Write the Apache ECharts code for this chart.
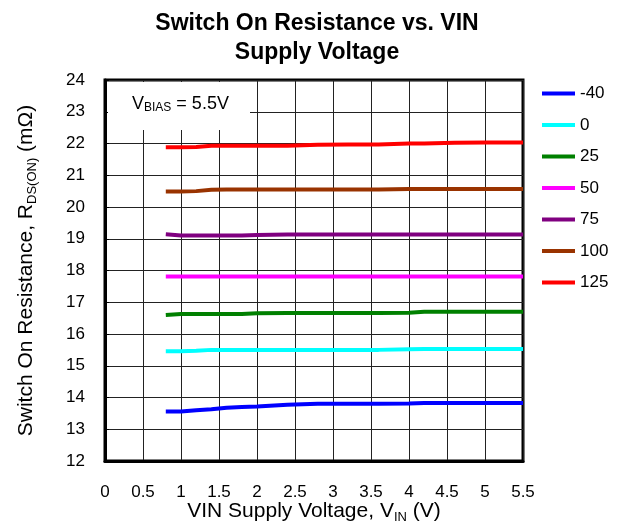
<!DOCTYPE html>
<html>
<head>
<meta charset="utf-8">
<script src="https://cdn.jsdelivr.net/npm/echarts@6/dist/echarts.min.js"></script>
<style>
  html, body { margin: 0; padding: 0; background: #fff; }
  #chart { width: 619px; height: 527px; }
</style>
</head>
<body>
<div id="chart"></div>
<script>
// VIN (V)
var vin = [0.8, 1.0, 1.2, 1.4, 1.6, 1.8, 2.0, 2.4, 2.8, 3.2, 3.6, 4.0, 4.2, 4.6, 5.0, 5.5];
// RDS(ON) (mOhm) per temperature
var tM40 = [13.56, 13.56, 13.6, 13.63, 13.68, 13.7, 13.72, 13.77, 13.8, 13.8, 13.8, 13.81, 13.83, 13.83, 13.83, 13.83];
var t0 = [15.46, 15.46, 15.47, 15.5, 15.5, 15.5, 15.5, 15.5, 15.5, 15.5, 15.5, 15.52, 15.53, 15.53, 15.53, 15.53];
var t25 = [16.6, 16.63, 16.63, 16.63, 16.63, 16.63, 16.65, 16.66, 16.66, 16.66, 16.66, 16.67, 16.7, 16.7, 16.7, 16.7];
var t50 = [17.81, 17.81, 17.81, 17.81, 17.81, 17.81, 17.81, 17.81, 17.81, 17.81, 17.81, 17.81, 17.81, 17.81, 17.81, 17.81];
var t75 = [19.14, 19.1, 19.1, 19.1, 19.1, 19.1, 19.12, 19.13, 19.13, 19.13, 19.13, 19.13, 19.13, 19.13, 19.13, 19.13];
var t100 = [20.49, 20.49, 20.5, 20.54, 20.55, 20.55, 20.55, 20.55, 20.55, 20.55, 20.55, 20.57, 20.57, 20.57, 20.57, 20.57];
var t125 = [21.88, 21.88, 21.89, 21.93, 21.93, 21.93, 21.93, 21.93, 21.96, 21.97, 21.97, 22.0, 22.0, 22.02, 22.03, 22.03];

var names = ['-40', '0', '25', '50', '75', '100', '125'];
var colors = ['#0000ff', '#00ffff', '#008000', '#ff00ff', '#800080', '#993300', '#ff0000'];
var values = [tM40, t0, t25, t50, t75, t100, t125];

var chart = echarts.init(document.getElementById('chart'));
var font = 'Liberation Sans, Arial, sans-serif';

var series = names.map(function(n, i) {
    return {
        name: n,
        type: 'line',
        symbol: 'none',
        color: colors[i],
        lineStyle: { width: 4, color: colors[i] },
        data: vin.map(function(x, j) { return [x, values[i][j]]; }),
        z: 5
    };
});

// rich styles for subscripts
var nameRich = {
    a: { fontFamily: font, fontSize: 21, color: '#000', lineHeight: 26 },
    s: { fontFamily: font, fontSize: 13, color: '#000', lineHeight: 26, verticalAlign: 'bottom', padding: [10, 0, 0, 0] }
};

var option = {
    backgroundColor: '#fff',
    animation: false,
    title: {
        text: 'Switch On Resistance vs. VIN\nSupply Voltage',
        left: 312,
        textAlign: 'center',
        top: 4,
        textStyle: { fontFamily: font, fontSize: 23, fontWeight: 'bold', color: '#000', lineHeight: 29 }
    },
    legend: {
        orient: 'vertical',
        left: 535,
        top: 80,
        itemWidth: 33,
        itemHeight: 17,
        itemGap: 14.5,
        textGap: 6,
        itemStyle: { opacity: 0 },
        lineStyle: { width: 4 },
        textStyle: { fontFamily: font, fontSize: 17, color: '#000' },
        data: names
    },
    grid: {
        left: 105, top: 80, right: 96, bottom: 66,
        outerBoundsMode: 'none',
        show: true, borderColor: '#000', borderWidth: 3
    },
    xAxis: {
        type: 'value',
        min: 0, max: 5.5, interval: 0.5,
        name: '{a|VIN Supply Voltage, V}{s|IN}{a| (V)}',
        nameLocation: 'middle',
        nameGap: 37,
        nameMoveOverlap: false,
        nameTextStyle: { rich: nameRich },
        axisLine: { show: true, lineStyle: { color: '#000', width: 3 } },
        axisTick: { show: false },
        axisLabel: { fontFamily: font, fontSize: 17, color: '#000', margin: 23 },
        splitLine: { show: true, lineStyle: { color: '#222', width: 1 } }
    },
    yAxis: {
        type: 'value',
        min: 12, max: 24, interval: 1,
        name: '{a|Switch On Resistance, R}{s|DS(ON)}{a| (m\u03a9)}',
        nameLocation: 'middle',
        nameGap: 66,
        nameRotate: 90,
        nameTextStyle: { rich: nameRich },
        axisLine: { show: true, lineStyle: { color: '#000', width: 3 } },
        axisTick: { show: true, inside: true, length: 4, lineStyle: { color: '#000' } },
        axisLabel: { fontFamily: font, fontSize: 17, color: '#000', margin: 20 },
        splitLine: { show: true, lineStyle: { color: '#222', width: 1 } }
    },
    graphic: [{
        type: 'rect',
        left: 108, top: 82,
        shape: { width: 142, height: 48 },
        style: { fill: '#fff' },
        z: 3
    }, {
        type: 'text',
        left: 132, top: 94,
        z: 4,
        style: {
            text: '{a|V}{s|BIAS}{a| = 5.5V}',
            rich: {
                a: { fontFamily: font, fontSize: 18, fill: '#000', lineHeight: 20 },
                s: { fontFamily: font, fontSize: 12, fill: '#000', lineHeight: 20, verticalAlign: 'bottom', padding: [8, 0, 0, 0] }
            }
        }
    }],
    series: series
};

chart.setOption(option);
</script>
</body>
</html>
